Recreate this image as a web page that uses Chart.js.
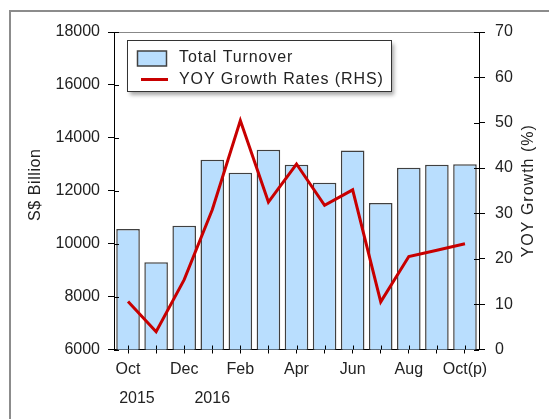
<!DOCTYPE html>
<html><head><meta charset="utf-8">
<script src="https://cdn.jsdelivr.net/npm/chart.js@4/dist/chart.umd.min.js"></script>
<style>
html,body{margin:0;padding:0;background:#fff;overflow:hidden}
#frame{position:absolute;left:9px;top:10px;width:600px;height:500px;border:2px solid #8c8c8c;box-sizing:border-box}
#wrap{position:absolute;left:0;top:0;width:549px;height:419px}
</style></head><body>
<div id="frame"></div>
<div id="wrap"><canvas id="c" width="549" height="419"></canvas></div>
<script>
const categories = ['Oct 2015','Nov','Dec','Jan 2016','Feb','Mar','Apr','May','Jun','Jul','Aug','Sep','Oct(p)'];
const tickLabels = [['Oct','    2015'], '', 'Dec', ['','2016'], 'Feb', '', 'Apr', '', 'Jun', '', 'Aug', '', 'Oct(p)'];
const turnover = [10550, 9300, 10680, 13170, 12680, 13550, 12980, 12300, 13520, 11540, 12870, 12980, 13000];
const growth = [10.6, 3.9, 15.4, 30.8, 50.5, 32.5, 40.9, 31.8, 35.2, 10.5, 20.5, 21.9, 23.3];
const seriesNames = ['Total Turnover', 'YOY Growth Rates (RHS)'];
const leftTitle = 'S$ Billion';
const rightTitle = 'YOY Growth (%)';

const FONT = "'Liberation Sans', Arial, sans-serif";
const BAR_FILL = '#b9defe';
const BAR_EDGE = '#404040';
const LINE_COL = '#c80000';
const TXT = '#222';

const extras = {
  id: 'extras',
  afterDraw(chart) {
    const ctx = chart.ctx;
    const a = chart.chartArea;
    ctx.save();
    // top frame line
    ctx.strokeStyle = '#888';
    ctx.lineWidth = 1;
    ctx.beginPath();
    ctx.moveTo(a.left, Math.round(a.top) + 0.5);
    ctx.lineTo(a.right, Math.round(a.top) + 0.5);
    ctx.stroke();
    // inner tick parts
    ctx.strokeStyle = '#000';
    const yl = chart.scales.y, yr = chart.scales.y1, xs = chart.scales.x;
    yl.ticks.forEach((t, i) => {
      const p = Math.round(yl.getPixelForTick(i)) + 0.5;
      ctx.beginPath(); ctx.moveTo(a.left, p); ctx.lineTo(a.left + 5, p); ctx.stroke();
    });
    yr.ticks.forEach((t, i) => {
      const p = Math.round(yr.getPixelForTick(i)) + 0.5;
      ctx.beginPath(); ctx.moveTo(a.right - 5, p); ctx.lineTo(a.right, p); ctx.stroke();
    });
    xs.ticks.forEach((t, i) => {
      const p = Math.round(xs.getPixelForValue(i)) + 0.5;
      ctx.beginPath(); ctx.moveTo(p, a.bottom - 4); ctx.lineTo(p, a.bottom); ctx.stroke();
    });
    // axis titles (both read bottom-to-top)
    ctx.fillStyle = TXT;
    ctx.font = '16px ' + FONT;
    ctx.textAlign = 'center';
    ctx.textBaseline = 'middle';
    const cy = (a.top + a.bottom) / 2;
    ctx.save(); ctx.translate(36, cy - 6); ctx.rotate(-Math.PI / 2); ctx.letterSpacing = '0.6px'; ctx.fillText(leftTitle, 0, 0); ctx.restore();
    ctx.save(); ctx.translate(529, cy); ctx.rotate(-Math.PI / 2); ctx.letterSpacing = '1px'; ctx.fillText(rightTitle, 0, 0); ctx.restore();
    // legend
    const lx = 127.5, ly = 40.5, lw = 264, lh = 51;
    ctx.save();
    ctx.shadowColor = 'rgba(0,0,0,0.35)';
    ctx.shadowBlur = 4; ctx.shadowOffsetX = 2; ctx.shadowOffsetY = 3;
    ctx.fillStyle = '#fff';
    ctx.fillRect(lx, ly, lw, lh);
    ctx.restore();
    ctx.strokeStyle = '#333'; ctx.lineWidth = 1;
    ctx.strokeRect(lx, ly, lw, lh);
    ctx.fillStyle = BAR_FILL; ctx.strokeStyle = BAR_EDGE; ctx.lineWidth = 1.5;
    ctx.fillRect(137.5, 51, 29, 15); ctx.strokeRect(137.5, 51, 29, 15);
    ctx.strokeStyle = LINE_COL; ctx.lineWidth = 3;
    ctx.beginPath(); ctx.moveTo(141, 79.5); ctx.lineTo(168, 79.5); ctx.stroke();
    ctx.fillStyle = TXT; ctx.textAlign = 'left'; ctx.textBaseline = 'middle';
    ctx.letterSpacing = '0.9px';
    ctx.fillText(seriesNames[0], 179, 58);
    ctx.fillText(seriesNames[1], 179, 80);
    ctx.restore();
  }
};

new Chart(document.getElementById('c'), {
  data: {
    labels: categories,
    datasets: [
      { type: 'line', label: seriesNames[1], data: growth, yAxisID: 'y1', order: 0,
        borderColor: LINE_COL, borderWidth: 3, pointRadius: 0, tension: 0, borderJoinStyle: 'miter', fill: false },
      { type: 'bar', label: seriesNames[0], data: turnover, yAxisID: 'y', order: 1,
        backgroundColor: BAR_FILL, borderColor: BAR_EDGE, borderWidth: 1.5,
        barPercentage: 0.84, categoryPercentage: 1 }
    ]
  },
  options: {
    responsive: false, animation: false, devicePixelRatio: 1,
    layout: { padding: { top: 32, left: 0, right: 0, bottom: 0 } },
    plugins: { legend: { display: false }, tooltip: { enabled: false } },
    scales: {
      x: {
        grid: { display: true, drawOnChartArea: false, drawTicks: true, tickLength: 4, offset: false, color: '#000' },
        border: { display: true, color: '#000', width: 1 },
        ticks: { autoSkip: false, maxRotation: 0, minRotation: 0, padding: 2, color: TXT,
          font: { family: FONT, size: 16, lineHeight: 1.78 },
          callback: (v, i) => tickLabels[i] },
        afterFit: s => { s.height = 69.5; }
      },
      y: {
        position: 'left', min: 6000, max: 18000,
        grid: { drawOnChartArea: false, tickLength: 6, color: '#000' },
        border: { display: true, color: '#000', width: 1 },
        ticks: { stepSize: 2000, padding: 8, color: TXT, font: { family: FONT, size: 16 },
          callback: v => String(v) },
        afterFit: s => { s.width = 114; }
      },
      y1: {
        position: 'right', min: 0, max: 70,
        grid: { drawOnChartArea: false, tickLength: 6, color: '#000' },
        border: { display: true, color: '#000', width: 1 },
        ticks: { stepSize: 10, padding: 10, color: TXT, font: { family: FONT, size: 16 },
          callback: v => String(v) },
        afterFit: s => { s.width = 70; }
      }
    }
  },
  plugins: [extras]
});
</script>
</body></html>
